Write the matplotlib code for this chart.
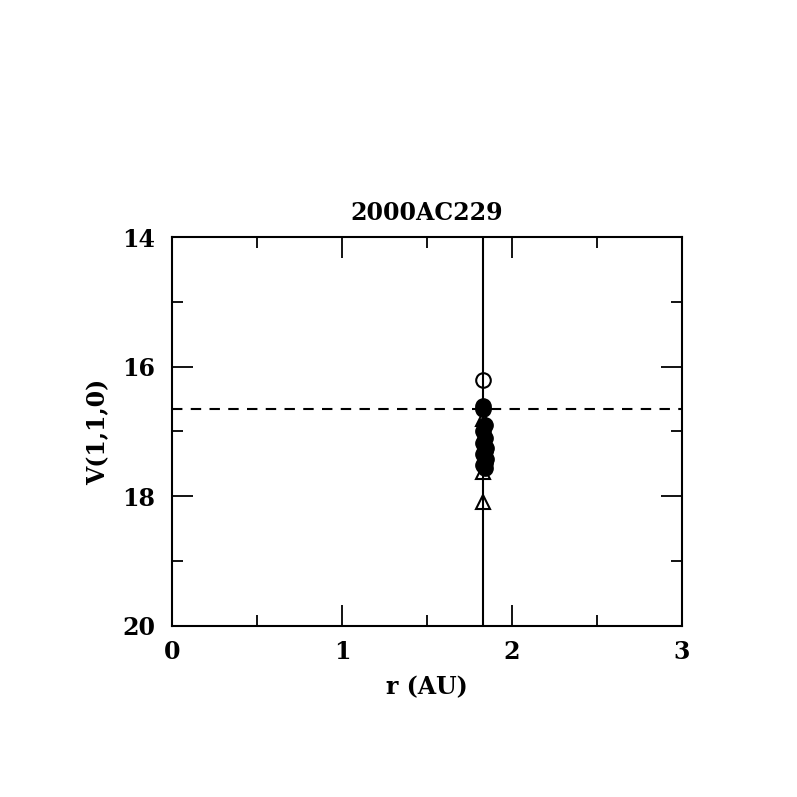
import matplotlib
matplotlib.use("Agg")
import matplotlib.pyplot as plt
from matplotlib.ticker import MultipleLocator

title = "2000AC229"
r_line = 1.83
v_line = 16.65

filled_r = [1.83, 1.83, 1.84, 1.83, 1.84, 1.83, 1.85, 1.84, 1.83, 1.85, 1.84, 1.83, 1.84]
filled_v = [16.60, 16.66, 16.90, 17.00, 17.10, 17.18, 17.25, 17.30, 17.35, 17.42, 17.48, 17.52, 17.56]
open_circle_r = [1.83]
open_circle_v = [16.21]
tri_r = [1.83, 1.83, 1.83]
tri_v = [16.80, 17.62, 18.09]

plt.rcParams['font.family'] = ['DejaVu Serif']
fig = plt.figure(figsize=(7.97, 7.97), dpi=100)
ax = fig.add_axes([0.2158, 0.2146, 0.6399, 0.488])

ax.axvline(r_line, color='black', lw=1.5)
ax.axhline(v_line, color='black', lw=1.5, ls=(0, (5, 4)))
ax.plot(tri_r, tri_v, ls='none', marker='^', ms=10, mfc='none', mec='black', mew=1.5)
ax.plot(filled_r, filled_v, ls='none', marker='o', ms=11, color='black')
ax.plot(open_circle_r, open_circle_v, ls='none', marker='o', ms=10.5, mfc='none', mec='black', mew=1.5)

ax.set_xlim(0, 3)
ax.set_ylim(20, 14)
ax.xaxis.set_major_locator(MultipleLocator(1))
ax.xaxis.set_minor_locator(MultipleLocator(0.5))
ax.yaxis.set_major_locator(MultipleLocator(2))
ax.yaxis.set_minor_locator(MultipleLocator(1))
ax.tick_params(which='both', direction='in', top=True, right=True, width=1.3, labelsize=17)
ax.tick_params(axis='y', pad=12)
ax.tick_params(axis='x', pad=10)
ax.tick_params(which='major', length=15)
ax.tick_params(which='minor', length=8)
for s in ax.spines.values():
    s.set_linewidth(1.5)
for lbl in ax.get_xticklabels() + ax.get_yticklabels():
    lbl.set_fontweight('bold')

ax.set_xlabel('r (AU)', fontsize=17, fontweight='bold', labelpad=8)
ax.set_ylabel('V(1,1,0)', fontsize=17, fontweight='bold', labelpad=9)
ax.set_title(title, fontsize=17, fontweight='bold', pad=12)

fig.savefig('out.png', dpi=100)
